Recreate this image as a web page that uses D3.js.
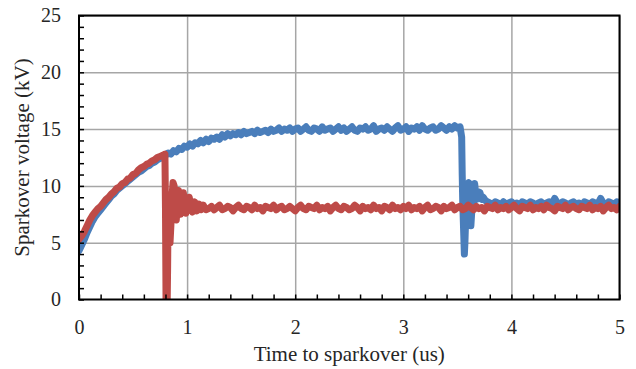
<!DOCTYPE html>
<html><head><meta charset="utf-8">
<script src="https://cdn.jsdelivr.net/npm/d3@7"></script>
<style>
html,body{margin:0;padding:0;background:#fff;}
svg{display:block;}
</style></head>
<body>
<svg id="chart" width="636" height="369"></svg>
<script>
// ---- data ----
const xTicks = [0, 1, 2, 3, 4, 5];
const yTicks = [0, 5, 10, 15, 20, 25];
const xTitle = "Time to sparkover (us)";
const yTitle = "Sparkover voltage (kV)";
const sampleStep = 0.025; // sample spacing used for the evenly sampled parts (us)

// blue trace, evenly sampled from 0 to 3.525 us
const blueEarlyVolt = [4.3,4.8,5.3,5.9,6.4,6.9,7.3,7.6,7.9,8.2,8.5,8.8,9.1,9.3,9.6,9.8,10.0,10.2,10.4,10.6,10.8,11.0,11.2,11.3,11.5,11.7,11.8,12.0,12.1,12.3,12.4,12.5,12.7,
  12.9,12.8,13.1,13.0,13.3,13.2,13.5,13.4,13.7,13.5,13.8,13.7,14.0,13.8,14.1,13.9,14.2,14.1,14.3,14.1,14.5,14.3,14.6,14.4,14.6,14.5,14.7,14.5,14.8,14.6,14.7,14.8,14.6,14.9,14.7,14.8,14.9,14.7,15.0,14.8,14.9,15.1,14.8,15.0,14.9,15.1,14.8,15.0,
  15.1,14.8,15.0,15.2,14.9,14.8,15.1,15.0,14.8,15.2,14.9,15.0,15.1,14.8,15.0,15.2,14.9,15.1,14.8,15.0,15.2,14.9,14.8,15.1,15.0,15.2,14.9,15.0,15.3,14.8,15.0,15.1,14.9,15.2,15.0,14.8,15.1,15.3,14.9,15.0,15.2,14.8,15.1,15.0,15.2,14.9,15.3,15.0,14.9,15.1,15.2,14.9,15.0,15.3,15.1,14.9,15.2,15.0,15.3,15.1,15.2];
// blue collapse after sparkover
const blueDropTime = [3.54,3.545,3.55,3.56,3.565,3.57,3.58,3.59,3.605,3.615,3.625,3.635,3.645,3.66,3.675,3.69,3.71,3.725,3.74,3.76,3.78];
const blueDropVolt = [14.3,11.0,8.5,5.5,4.0,5.0,8.0,9.8,10.3,8.5,6.5,8.0,9.8,10.2,8.8,9.5,9.4,8.8,9.0,8.7,8.6];
// blue tail, evenly sampled from 3.8 to 5.0 us
const blueTailStart = 3.8;
const blueTailVolt = [8.5,8.4,8.6,8.5,8.3,8.6,8.4,8.5,8.6,8.4,8.5,8.3,8.6,8.5,8.4,8.6,8.5,8.3,8.5,8.6,8.4,8.5,8.6,8.4,8.9,8.5,8.4,8.6,8.5,8.3,8.5,8.6,8.4,8.5,8.3,8.6,8.5,8.4,8.6,8.5,8.4,8.9,8.5,8.3,8.6,8.5,8.4,8.6,8.5];

// red trace, evenly sampled rise from 0 to 0.775 us
const redRiseVolt = [5.3,5.6,6.0,6.5,7.0,7.4,7.7,8.0,8.2,8.5,8.8,9.0,9.3,9.5,9.8,9.9,10.2,10.3,10.6,10.7,11.0,11.1,11.4,11.6,11.7,11.9,12.0,12.2,12.3,12.5,12.6,12.7];
// red sparkover and ringing
const redDropTime = [0.795,0.8,0.805,0.815,0.82,0.825,0.83,0.835,0.842,0.85,0.86,0.87,0.88,0.89,0.9,0.91,0.92,0.93,0.94,0.955,0.965,0.98,0.99,1.005,1.02,1.035,1.05,1.07,1.09,1.11,1.13,1.15,1.175];
const redDropVolt = [12.8,8.0,0.0,-1.0,3.0,8.5,9.2,7.5,5.0,6.5,9.0,10.3,10.0,8.0,7.0,8.5,9.6,8.8,7.5,8.0,9.4,8.5,7.6,8.3,9.0,8.1,7.7,8.6,7.8,8.4,7.9,8.3,7.9];
// red plateau, evenly sampled from 1.2 to 5.0 us
const redFlatStart = 1.2;
const redFlatVolt = [8.0,8.2,7.9,8.1,8.3,7.9,8.0,8.2,8.1,7.8,8.1,8.3,8.0,7.9,8.2,8.1,7.9,8.3,8.0,8.1,7.8,8.2,8.1,8.0,8.3,7.9,8.1,8.2,7.9,8.0,
  8.2,8.0,7.8,8.1,8.3,8.0,7.9,8.2,8.1,8.0,8.3,7.9,8.1,8.0,8.2,7.8,8.1,8.3,8.0,7.9,8.2,8.1,7.9,8.0,8.3,8.1,7.8,8.2,8.0,8.1,
  7.9,8.3,8.0,8.1,7.8,8.2,8.1,7.9,8.3,8.0,8.1,7.9,8.2,8.0,8.3,7.9,8.1,8.0,8.2,7.8,8.1,8.3,7.9,8.0,8.2,8.1,7.8,8.2,8.0,8.1,
  8.3,7.9,8.1,8.2,7.9,8.0,8.3,8.1,7.9,8.2,8.0,8.1,7.8,8.2,8.1,8.0,8.3,7.9,8.1,8.0,8.2,7.9,8.1,8.3,8.0,7.8,8.2,8.1,8.0,8.3,
  7.9,8.1,8.0,8.2,7.9,8.3,8.1,8.0,7.8,8.2,8.1,8.0,8.3,7.9,8.1,8.2,8.0,7.9,8.2,8.1,8.0,8.3,7.9,8.1,8.0,8.2,7.8,8.1,8.3,8.0,
  8.1,7.9,8.2];

// ---- assemble series ----
const sampled = (start, vals) => vals.map((v, i) => [+(start + i * sampleStep).toFixed(4), v]);
const paired = (ts, vs) => ts.map((t, i) => [t, vs[i]]);
const blue = [...sampled(0, blueEarlyVolt), ...paired(blueDropTime, blueDropVolt), ...sampled(blueTailStart, blueTailVolt)];
const red = [...sampled(0, redRiseVolt), ...paired(redDropTime, redDropVolt), ...sampled(redFlatStart, redFlatVolt)];

// ---- layout ----
const FONT = "'Liberation Serif', 'Times New Roman', Times, serif";
const L = 79, R = 619.5, T = 15.5, B = 299.5;
const svg = d3.select("#chart");
const x = d3.scaleLinear().domain([0, 5]).range([L, R]);
const y = d3.scaleLinear().domain([0, 25]).range([B, T]);
const xMinor = d3.range(0, 26).map(i => i / 5);
const yMinor = d3.range(0, 26);

// grid
svg.append("g").attr("transform", `translate(0,${B})`)
  .call(d3.axisBottom(x).tickValues(xTicks.slice(1)).tickSize(-(B - T)).tickFormat(""))
  .call(g => g.select(".domain").remove())
  .call(g => g.selectAll("line").attr("stroke", "#a6a6a6").attr("stroke-width", 1.5));
svg.append("g").attr("transform", `translate(${L},0)`)
  .call(d3.axisLeft(y).tickValues(yTicks.slice(1)).tickSize(-(R - L)).tickFormat(""))
  .call(g => g.select(".domain").remove())
  .call(g => g.selectAll("line").attr("stroke", "#a6a6a6").attr("stroke-width", 1.5));

svg.append("clipPath").attr("id", "clip").append("rect")
  .attr("x", L).attr("y", T).attr("width", R - L).attr("height", B - T);

const line = d3.line().x(d => x(d[0])).y(d => y(d[1]));
const plot = svg.append("g").attr("clip-path", "url(#clip)");
plot.append("path").datum(blue).attr("d", line)
  .attr("fill", "none").attr("stroke", "#4a7ebb").attr("stroke-width", 7)
  .attr("stroke-linejoin", "round").attr("stroke-linecap", "round");
plot.append("path").datum(red).attr("d", line)
  .attr("fill", "none").attr("stroke", "#be4b48").attr("stroke-width", 7)
  .attr("stroke-linejoin", "round").attr("stroke-linecap", "round");

// minor ticks (inside)
svg.append("g").attr("transform", `translate(0,${B})`)
  .call(d3.axisBottom(x).tickValues(xMinor).tickSize(-5).tickFormat(""))
  .call(g => g.select(".domain").remove())
  .call(g => g.selectAll("line").attr("stroke", "#000").attr("stroke-width", 1.5));
svg.append("g").attr("transform", `translate(${L},0)`)
  .call(d3.axisLeft(y).tickValues(yMinor).tickSize(-5).tickFormat(""))
  .call(g => g.select(".domain").remove())
  .call(g => g.selectAll("line").attr("stroke", "#000").attr("stroke-width", 1.5));

// frame
svg.append("rect").attr("x", L).attr("y", T).attr("width", R - L).attr("height", B - T)
  .attr("fill", "none").attr("stroke", "#000").attr("stroke-width", 2);

// tick labels
const xAx = svg.append("g").attr("transform", `translate(0,${B})`)
  .call(d3.axisBottom(x).tickValues(xTicks).tickSize(0).tickPadding(20).tickFormat(d3.format("d")));
xAx.select(".domain").remove();
xAx.attr("font-family", null).attr("font-size", null);
xAx.selectAll("text").style("font-family", FONT).style("font-size", "20px").attr("fill", "#262626");
const yAx = svg.append("g").attr("transform", `translate(${L},0)`)
  .call(d3.axisLeft(y).tickValues(yTicks).tickSize(0).tickPadding(18).tickFormat(d3.format("d")));
yAx.select(".domain").remove();
yAx.attr("font-family", null).attr("font-size", null);
yAx.selectAll("text").style("font-family", FONT).style("font-size", "20px").attr("fill", "#262626");

// titles
svg.append("text").attr("x", (L + R) / 2).attr("y", 361).attr("text-anchor", "middle")
  .style("font-family", FONT).style("font-size", "21px").attr("fill", "#262626").text(xTitle);
svg.append("text").attr("transform", `translate(29,${(T + B) / 2}) rotate(-90)`)
  .attr("text-anchor", "middle").style("font-family", FONT).style("font-size", "21px")
  .attr("fill", "#262626").text(yTitle);
</script>
</body></html>
